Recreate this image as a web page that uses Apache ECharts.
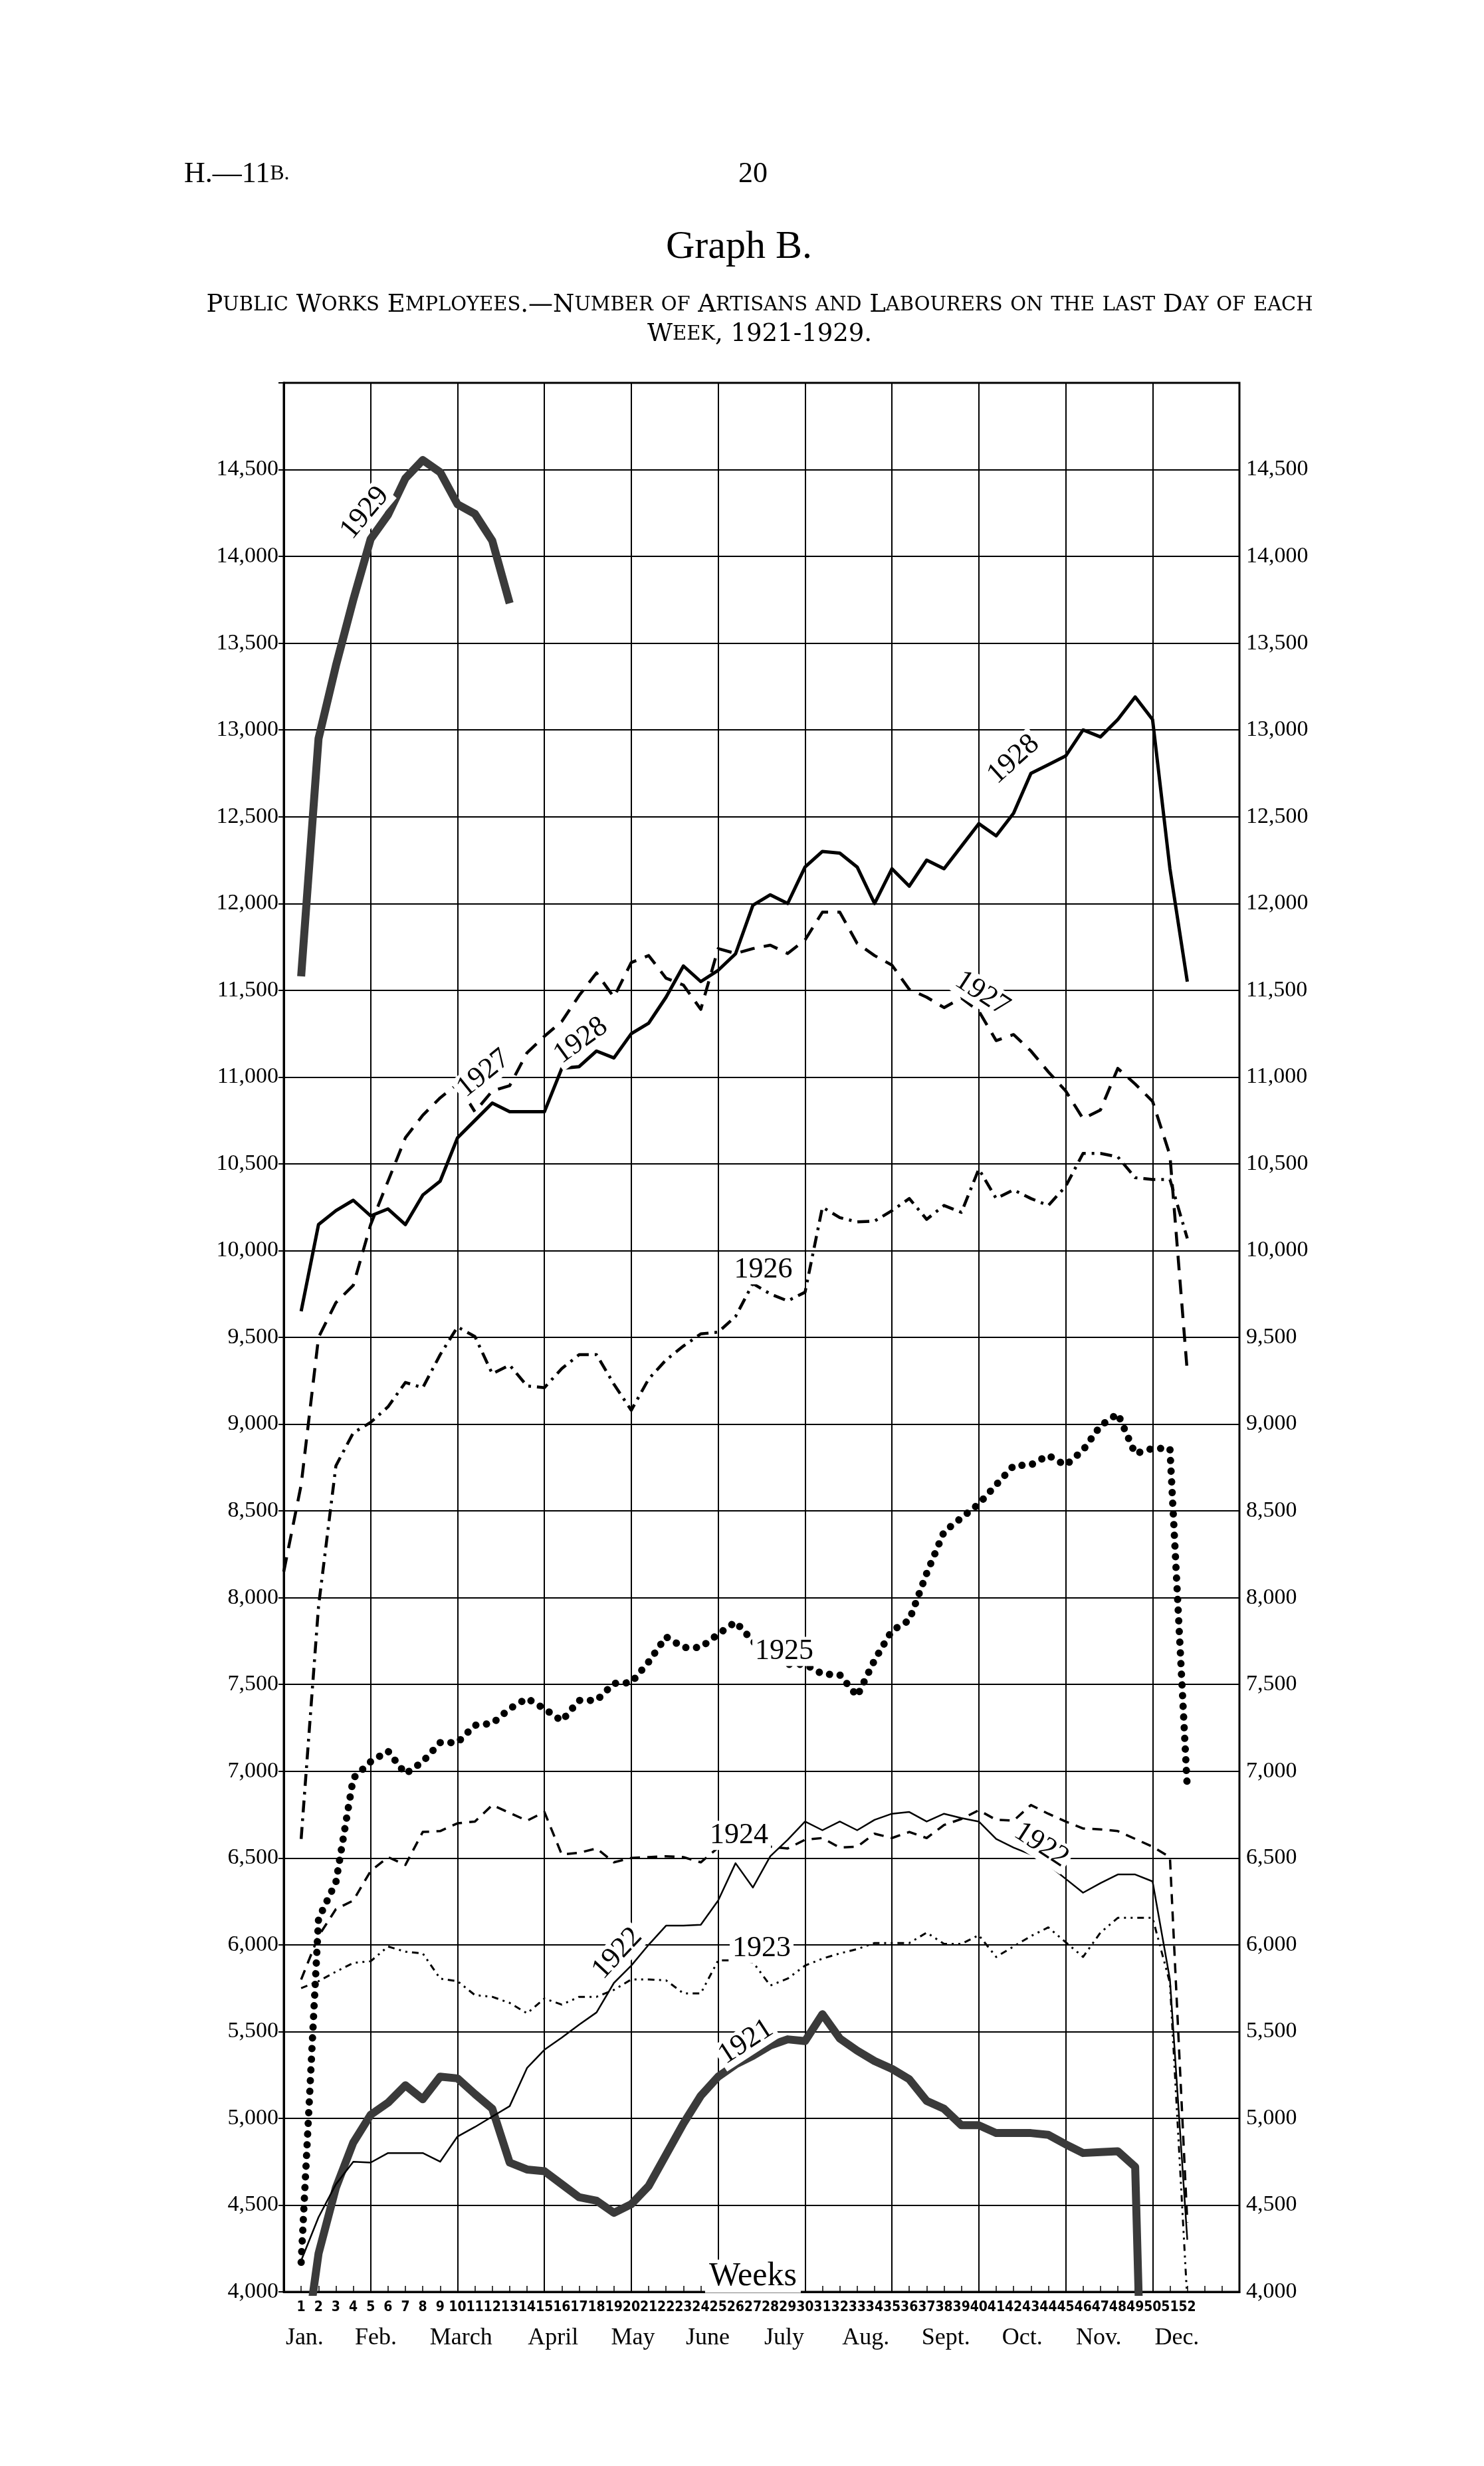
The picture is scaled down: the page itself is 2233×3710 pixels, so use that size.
<!DOCTYPE html>
<html>
<head>
<meta charset="utf-8">
<script src="https://cdn.jsdelivr.net/npm/echarts@6/dist/echarts.min.js"></script>
<style>
html,body{margin:0;padding:0;background:#fff;}
#c{width:2233px;height:3710px;}
</style>
</head>
<body>
<div id="c"></div>
<script>
// ---------------- DATA ----------------
const weeks = [0,1,2,3,4,5,6,7,8,9,10,11,12,13,14,15,16,17,18,19,20,21,22,23,24,25,26,27,28,29,30,31,32,33,34,35,36,37,38,39,40,41,42,43,44,45,46,47,48,49,50,51,52];
const weekTicks = [1,2,3,4,5,6,7,8,9,10,11,12,13,14,15,16,17,18,19,20,21,22,23,24,25,26,27,28,29,30,31,32,33,34,35,36,37,38,39,40,41,42,43,44,45,46,47,48,49,50,51,52];
const months = ['Jan.','Feb.','March','April','May','June','July','Aug.','Sept.','Oct.','Nov.','Dec.'];
const monthWeek = [1.2,5.3,10.2,15.5,20.1,24.4,28.8,33.5,38.1,42.5,46.9,51.4];

const y1921 = [null,3500,4220,4600,4860,5020,5090,5190,5110,5240,5230,5140,5055,4745,4705,4695,4620,4545,4525,4455,4505,4610,4790,4970,5130,5240,5310,5360,5420,5455,5445,5600,5460,5390,5330,5285,5225,5100,5055,4960,4960,4915,4915,4915,4905,4850,4800,4805,4810,4720,1000,null,null];
const y1922 = [null,4180,4430,4620,4750,4745,4800,4800,4800,4750,4895,4950,5010,5070,5290,5395,5465,5540,5610,5780,5880,6000,6110,6110,6115,6255,6470,6330,6510,6605,6710,6660,6710,6660,6720,6755,6765,6710,6755,6730,6710,6610,6560,6520,6460,6380,6300,6355,6405,6405,6365,5800,4300];
const y1923 = [null,5750,5790,5845,5895,5905,5990,5960,5950,5805,5790,5710,5700,5665,5605,5690,5655,5700,5700,5740,5800,5800,5795,5720,5720,5910,5910,5900,5765,5805,5880,5920,5950,5975,6010,6010,6010,6070,6005,6005,6055,5930,5990,6050,6100,6015,5930,6070,6155,6155,6155,5780,3950];
const y1924 = [null,5800,6050,6205,6255,6425,6505,6460,6650,6655,6700,6710,6805,6760,6715,6765,6520,6530,6555,6475,6500,6505,6510,6505,6475,6560,6565,6565,6565,6555,6605,6615,6560,6565,6640,6615,6650,6615,6690,6725,6775,6720,6715,6805,6755,6710,6670,6665,6655,6610,6565,6505,4400];
const y1925 = [null,4170,6150,6360,6960,7055,7116,6985,7055,7165,7165,7265,7275,7360,7420,7360,7290,7408,7408,7506,7510,7630,7775,7713,7713,7790,7860,7750,7650,7616,7616,7560,7555,7433,7640,7810,7870,8140,8380,8460,8540,8650,8760,8765,8820,8763,8850,8990,9060,8830,8860,8860,6900];
const y1926 = [null,6610,7950,8760,8950,9010,9100,9240,9210,9400,9560,9505,9290,9340,9220,9210,9320,9400,9400,9230,9080,9260,9370,9450,9520,9530,9620,9810,9750,9710,9760,10250,10190,10165,10170,10230,10300,10180,10260,10220,10470,10300,10350,10300,10260,10370,10560,10560,10540,10420,10410,10410,10070];
const y1927 = [8150,8650,9500,9700,9800,10150,10400,10650,10780,10880,10960,10800,10920,10950,11140,11235,11320,11470,11600,11460,11660,11700,11570,11530,11390,11740,11712,11740,11760,11712,11790,11950,11950,11770,11700,11645,11505,11460,11400,11455,11380,11210,11245,11150,11030,10920,10760,10810,11050,10960,10860,10550,9300];
const y1928 = [null,9650,10150,10230,10290,10200,10240,10150,10320,10400,10650,10750,10850,10800,10800,10800,11050,11060,11150,11110,11250,11310,11460,11640,11550,11615,11710,11990,12050,12000,12210,12300,12290,12210,12000,12200,12100,12250,12200,12330,12460,12390,12520,12750,12800,12850,13000,12960,13060,13190,13060,12200,11550];
const y1929 = [null,11580,12950,13370,13750,14100,14240,14450,14555,14485,14300,14245,14090,13730,null,null,null,null,null,null,null,null,null,null,null,null,null,null,null,null,null,null,null,null,null,null,null,null,null,null,null,null,null,null,null,null,null,null,null,null,null,null,null];

const yMin = 4000, yMax = 15000, yStep = 500;

// ---------------- LAYOUT / STYLE ----------------
const SERIF = '"Liberation Serif","Times New Roman",serif';
const NARROW = '"DejaVu Sans Condensed","Liberation Sans Narrow","Liberation Sans",sans-serif';

const seriesStyle = {
  '1921': {color:'#3a3a3a', width:12, type:'solid', z:3},
  '1922': {color:'#000', width:2.5, type:'solid', z:4},
  '1923': {color:'#000', width:3, type:[10,7,3,7,3,7], z:4},
  '1924': {color:'#000', width:3.5, type:[15,11], z:4},
  '1925': {color:'#000', width:11, type:[0.1,16], cap:'round', z:5},
  '1926': {color:'#000', width:4.5, type:[18,9,4,9], z:4},
  '1927': {color:'#000', width:4.5, type:[22,14], z:4},
  '1928': {color:'#000', width:5, type:'solid', z:4},
  '1929': {color:'#3a3a3a', width:12, type:'solid', z:3}
};
const seriesData = {'1921':y1921,'1922':y1922,'1923':y1923,'1924':y1924,'1925':y1925,'1926':y1926,'1927':y1927,'1928':y1928,'1929':y1929};

function pairs(arr){
  const out = [];
  arr.forEach((v,i)=>{ if(v!==null) out.push([weeks[i], v]); });
  return out;
}

const series = Object.keys(seriesData).map(name=>{
  const st = seriesStyle[name];
  return {
    name, type:'line', xAxisIndex:0, yAxisIndex:0,
    data: pairs(seriesData[name]),
    showSymbol:false, symbol:'none', clip:true, animation:false, z: st.z,
    lineStyle:{color:st.color, width:st.width, type:st.type, cap: st.cap || 'butt', join:'round'}
  };
});

const gridL = 427, gridT = 576, gridW = 1438, gridH = 2872;

const option = {
  backgroundColor:'#fff',
  animation:false,
  grid:{left:gridL, top:gridT, width:gridW, height:gridH, show:true, borderColor:'#000', borderWidth:3, containLabel:false},
  xAxis:[
    {type:'value', min:0, max:55, interval:5, position:'bottom',
     axisLine:{show:true, lineStyle:{color:'#000', width:3}},
     axisTick:{show:false}, axisLabel:{show:false},
     splitLine:{show:true, lineStyle:{color:'#000', width:2}}},
    {type:'value', min:0, max:55, interval:1, position:'bottom',
     axisLine:{show:false},
     axisTick:{show:true, inside:true, length:9, lineStyle:{color:'#000', width:1.5}},
     splitLine:{show:false},
     axisLabel:{show:true, margin:13, color:'#000', fontFamily:NARROW, fontWeight:'bold', fontSize:21,
       formatter:(v)=> weekTicks.indexOf(v) >= 0 ? String(v) : ''}}
  ],
  yAxis:[
    {type:'value', min:yMin, max:yMax, interval:yStep, position:'left',
     axisLine:{show:true, lineStyle:{color:'#000', width:3}},
     axisTick:{show:true, length:8, lineStyle:{color:'#000', width:2}},
     splitLine:{show:true, lineStyle:{color:'#000', width:2}},
     axisLabel:{margin:8, color:'#000', fontFamily:SERIF, fontSize:34,
       formatter:(v)=> v>=yMax ? '' : v.toLocaleString('en-US')}},
    {type:'value', min:yMin, max:yMax, interval:yStep, position:'right',
     axisLine:{show:true, lineStyle:{color:'#000', width:3}},
     axisTick:{show:true, length:8, lineStyle:{color:'#000', width:2}},
     splitLine:{show:false},
     axisLabel:{margin:10, color:'#000', fontFamily:SERIF, fontSize:34,
       formatter:(v)=> v>=yMax ? '' : v.toLocaleString('en-US')}}
  ],
  series
};

const chart = echarts.init(document.getElementById('c'), null, {renderer:'canvas', width:2233, height:3710});
chart.setOption(option);

// annotation layout (in data coordinates: week, value, angle in degrees)
const annotations = [
  {t:'1929', w:4.67, v:14250, a:50},
  {t:'1928', w:42.0, v:12830, a:42},
  {t:'1928', w:17.1, v:11210, a:36},
  {t:'1927', w:11.5, v:11020, a:39},
  {t:'1927', w:40.2, v:11480, a:-33},
  {t:'1926', w:27.6, v:9890, a:0},
  {t:'1925', w:28.8, v:7690, a:0},
  {t:'1924', w:26.2, v:6630, a:0},
  {t:'1923', w:27.5, v:5980, a:0},
  {t:'1922', w:19.2, v:5950, a:47},
  {t:'1922', w:43.6, v:6575, a:-33},
  {t:'1921', w:26.6, v:5440, a:33}
];

function px(w,v){ return chart.convertToPixel({xAxisIndex:0, yAxisIndex:0}, [w,v]); }

function smallCaps(str){
  let out = '', cur = null, buf = '';
  for (const ch of str){
    const cls = /[a-z]/.test(ch) ? 's' : 'c';
    const c = cls==='s' ? ch.toUpperCase() : ch;
    if (cls !== cur){ if (buf) out += '{'+cur+'|'+buf+'}'; buf = c; cur = cls; }
    else buf += c;
  }
  if (buf) out += '{'+cur+'|'+buf+'}';
  return out;
}

const elements = [];
function txt(x,y,text,font,opt){
  opt = opt || {};
  const style = Object.assign({text, x:0, y:0, font, fill:'#000',
    align:opt.align||'center', verticalAlign:'middle',
    textAlign:opt.align||'center', textVerticalAlign:'middle'}, opt.style||{});
  elements.push({type:'text', x, y, rotation:(opt.rot||0)*Math.PI/180, z:100, silent:true, style});
}

// header
txt(277, 262, '{c|H.—11}{s|B.}', '44px '+SERIF, {align:'left', style:{rich:{c:{font:'44px '+SERIF, fill:'#000'}, s:{font:'32px '+SERIF, fill:'#000'}}}});
txt(1133, 262, '20', '44px '+SERIF);
txt(1112, 372, 'Graph B.', '60px '+SERIF);
const subRich = {c:{font:'37px "DejaVu Serif",serif', fill:'#000'}, s:{font:'29px "DejaVu Serif",serif', fill:'#000'}};
txt(1143, 459, smallCaps('Public Works Employees.—Number of Artisans and Labourers on the last Day of each'), '37px "DejaVu Serif",serif', {style:{rich:subRich}});
txt(1143, 503, smallCaps('Week, 1921-1929.'), '37px "DejaVu Serif",serif', {style:{rich:subRich}});

// year labels
annotations.forEach(a=>{
  const p = px(a.w, a.v);
  txt(p[0], p[1], a.t, '44px '+SERIF, {rot:a.a, style:{backgroundColor:'#fff', padding:[0,4]}});
});

// Weeks label
{
  const p = px(27.0, 4090);
  txt(p[0], p[1], 'Weeks', '50px '+SERIF, {style:{backgroundColor:'#fff', padding:[0,6]}});
}
// month labels
months.forEach((m,i)=>{
  const p = px(monthWeek[i], yMin);
  txt(p[0], p[1]+70, m, '36px '+SERIF);
});

chart.setOption({graphic:{elements}});
</script>
</body>
</html>
